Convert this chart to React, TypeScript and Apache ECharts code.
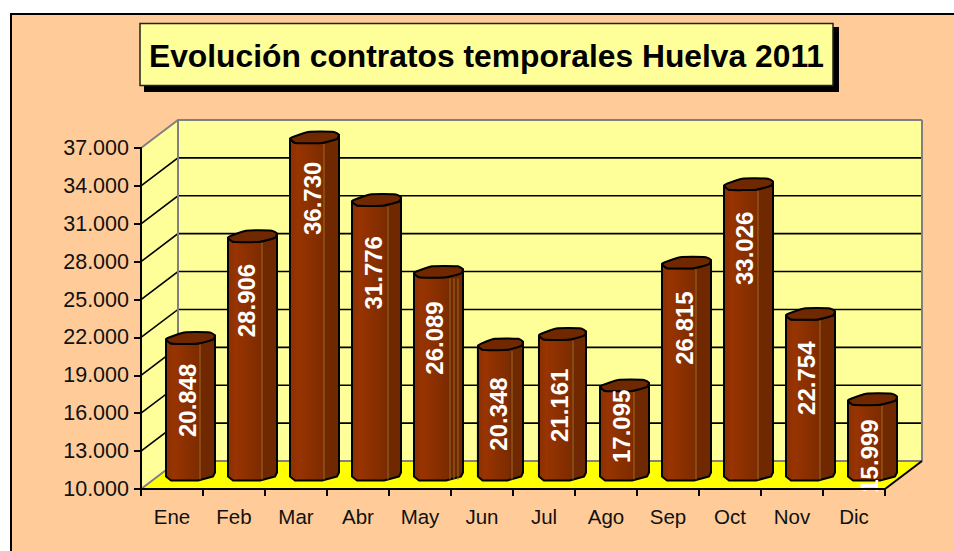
import React, { useEffect, useRef } from "react";
import * as echarts from "echarts";

const titleText = "Evolución contratos temporales Huelva 2011";
const categories = ["Ene", "Feb", "Mar", "Abr", "May", "Jun", "Jul", "Ago", "Sep", "Oct", "Nov", "Dic"];
const contracts = [20848, 28906, 36730, 31776, 26089, 20348, 21161, 17095, 26815, 33026, 22754, 15999];
const yTicks = [10000, 13000, 16000, 19000, 22000, 25000, 28000, 31000, 34000, 37000];

// Styling of the marks, kept apart from the data.
const labelDrop = [62.3, 64.3, 60.9, 72.8, 66.2, 69.7, 71.3, 40.9, 65.4, 64.1, 64.3, 56.8];
const labelShift = [-2.5, -6, -2, -2.7, -4, -2, -3, -2.7, -2, -4, -3.6, -2.3];
const widthScale = [1, 1, 1, 1, 1, 0.92, 0.96, 1, 1, 1, 1, 1];
const ridges = [[10], [10], [10], [12], [12, 16, 20], [12], [11], [10], [10], [10], [10], [10]];

const fmt = (v: number) => String(v).replace(/\B(?=(\d{3})+$)/g, ".");
const DX = 37;
const DY = -28;
const FONT = '"Liberation Sans", Arial, sans-serif';
// Outline of the bar's polygonal section, relative to its centre.
const section: number[][] = [[-24, 1.5], [-21, -0.5], [-6, -5.5], [20, -5.5], [25, -2.5], [23, 1.5], [8, 5.5], [-19, 5.5]];
const lowerEdge = [0, 7, 6, 5, 4].map((i) => section[i]);

export default function App() {
  const ref = useRef<HTMLDivElement>(null);
  useEffect(() => {
    const chart = echarts.init(ref.current!, undefined, { renderer: "svg" });
    chart.setOption({
      animation: false,
      backgroundColor: "#ffffff",
      title: {
        text: titleText,
        left: 481.5,
        top: 34.5,
        textAlign: "center",
        z: 20,
        textStyle: { fontFamily: FONT, fontWeight: "bold", fontSize: 31.8, color: "#000" },
      },
      graphic: [
        { type: "rect", z: -10, silent: true, shape: { x: 11, y: 14, width: 1000, height: 600 }, style: { fill: "#FFCC99", stroke: "#000", lineWidth: 2 } },
        { type: "rect", z: -9, silent: true, shape: { x: 144, y: 27, width: 695, height: 65 }, style: { fill: "#000" } },
        { type: "rect", z: -8, silent: true, shape: { x: 140, y: 23.5, width: 693, height: 62 }, style: { fill: "#FFFF99", stroke: "#222", lineWidth: 1.5 } },
      ],
      grid: { left: 141, right: 69, top: 148, bottom: 62 },
      xAxis: {
        type: "category",
        data: categories,
        z: 10,
        axisLine: { lineStyle: { color: "#000", width: 2 } },
        axisTick: { show: true, alignWithLabel: false, length: 7, lineStyle: { color: "#000", width: 2 } },
        axisLabel: { color: "#111", fontFamily: FONT, fontSize: 20.5, margin: 17 },
      },
      yAxis: {
        type: "value",
        min: 10000,
        max: 37000,
        z: 10,
        splitLine: { show: false },
        axisLine: { show: true, lineStyle: { color: "#000", width: 2 } },
        axisTick: { show: true, length: 7, customValues: yTicks, lineStyle: { color: "#000", width: 2 } },
        axisLabel: { customValues: yTicks, color: "#111", fontFamily: FONT, fontSize: 21.5, margin: 12, padding: [2, 0, 0, 0], formatter: (v: number) => fmt(v) },
      },
      series: [
        {
          type: "custom",
          silent: true,
          z: 1,
          data: [0],
          renderItem: (params: any, api: any) => {
            const c = params.coordSys;
            const x0 = c.x, x1 = c.x + c.width, y0 = c.y, y1 = c.y + c.height;
            return {
              type: "group",
              children: [
                { type: "polygon", shape: { points: [[x0, y0], [x0 + DX, y0 + DY], [x0 + DX, y1 + DY], [x0, y1]] }, style: { fill: "#FFFF99" } },
                { type: "rect", shape: { x: x0 + DX, y: y0 + DY, width: c.width, height: c.height }, style: { fill: "#FFFF99" } },
                { type: "polygon", shape: { points: [[x0, y1], [x0 + DX, y1 + DY], [x1 + DX, y1 + DY], [x1, y1]] }, style: { fill: "#FFFF00" } },
              ],
            };
          },
        },
        {
          type: "custom",
          silent: true,
          z: 2,
          data: yTicks,
          encode: { y: 0 },
          renderItem: (params: any, api: any) => {
            const c = params.coordSys;
            const v = api.value(0);
            const y = api.coord([0, v])[1];
            const edge = v === yTicks[0] || v === yTicks[yTicks.length - 1];
            const points = [[c.x, y], [c.x + DX, y + DY], [c.x + c.width + DX, y + DY]];
            return { type: "polyline", shape: { points }, style: { fill: "none", stroke: edge ? "#808080" : "#000", lineWidth: edge ? 2 : 1.6 } };
          },
        },
        {
          type: "custom",
          silent: true,
          z: 3,
          data: [0],
          renderItem: (params: any, api: any) => {
            const c = params.coordSys;
            const x1 = c.x + c.width, y0 = c.y, y1 = c.y + c.height;
            return {
              type: "group",
              children: [
                { type: "line", shape: { x1: c.x + DX, y1: y0 + DY, x2: c.x + DX, y2: y1 + DY }, style: { stroke: "#808080", lineWidth: 2 } },
                { type: "line", shape: { x1: x1 + DX, y1: y0 + DY, x2: x1 + DX, y2: y1 + DY }, style: { stroke: "#808080", lineWidth: 2 } },
                { type: "line", shape: { x1: x1, y1: y1, x2: x1 + DX, y2: y1 + DY }, style: { stroke: "#000", lineWidth: 2 } },
              ],
            };
          },
        },
        {
          type: "custom",
          silent: true,
          z: 5,
          data: contracts.map((v, i) => [i, v]),
          encode: { x: 0, y: 1 },
          renderItem: (params: any, api: any) => {
            const i = api.value(0);
            const top = api.coord([i, api.value(1)]);
            const base = api.coord([i, yTicks[0]]);
            const cx = top[0] + DX / 2 - 0.5;
            const ty = top[1] + DY / 2;
            const by = base[1] + DY / 2;
            const k = widthScale[i];
            const at = (p: number[], y: number) => [cx + p[0] * k, y + p[1]];
            const body = [...lowerEdge.map((p) => at(p, by)), ...lowerEdge.slice().reverse().map((p) => at(p, ty))];
            const fillBody = new echarts.graphic.LinearGradient(0, 0, 1, 0, [
              { offset: 0, color: "#8A3000" },
              { offset: 0.16, color: "#983400" },
              { offset: 0.7, color: "#7C2B00" },
              { offset: 0.71, color: "#702800" },
              { offset: 1, color: "#702800" },
            ]);
            return {
              type: "group",
              children: [
                { type: "polygon", shape: { points: body }, style: { fill: fillBody, stroke: "#000", lineWidth: 2, lineJoin: "round" } },
                { type: "polygon", shape: { points: section.map((p) => at(p, ty)), smooth: 0.2 }, style: { fill: "#702800", stroke: "#000", lineWidth: 2, lineJoin: "round" } },
                ...ridges[i].map((r) => ({
                  type: "line",
                  shape: { x1: cx + r, y1: ty + 6.5, x2: cx + r, y2: by + 4.5 },
                  style: { stroke: "#9A6A22", lineWidth: 1 },
                })),
                {
                  type: "text",
                  x: cx + labelShift[i],
                  y: ty + labelDrop[i],
                  rotation: Math.PI / 2,
                  style: { text: fmt(api.value(1)), fill: "#fff", font: `bold 24px ${FONT}`, align: "center", verticalAlign: "middle" },
                },
              ],
            };
          },
        },
      ],
    });
    return () => chart.dispose();
  }, []);
  return <div ref={ref} style={{ position: "fixed", left: 0, top: 0, width: 954, height: 551 }} />;
}
